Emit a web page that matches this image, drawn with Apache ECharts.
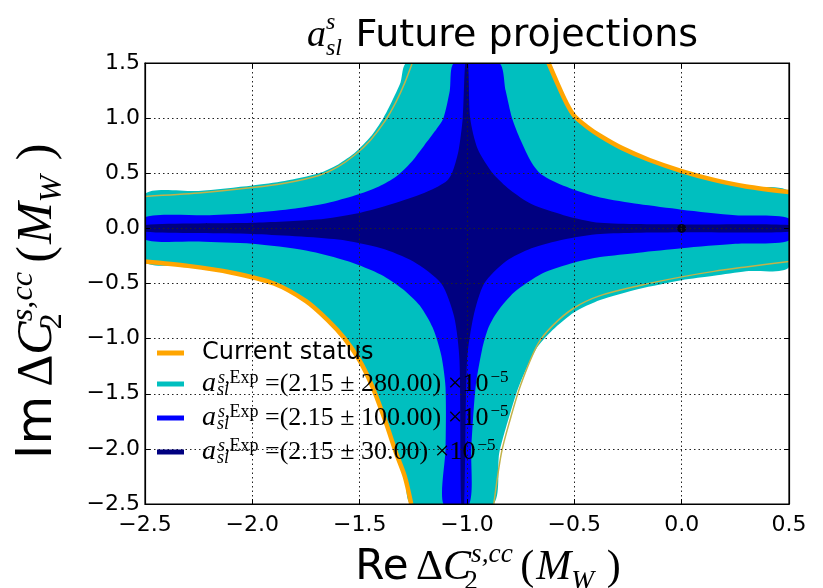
<!DOCTYPE html>
<html><head><meta charset="utf-8">
<script src="https://cdn.jsdelivr.net/npm/echarts@6/dist/echarts.min.js"></script>
<style>html,body{margin:0;padding:0;background:#fff}#c{width:823px;height:588px}</style>
</head><body><div id="c"></div>
<script>
// ---- axis ticks ----
const xTicks = [-2.5, -2.0, -1.5, -1.0, -0.5, 0.0, 0.5];
const yTicks = [-2.5, -2.0, -1.5, -1.0, -0.5, 0.0, 0.5, 1.0, 1.5];

// ---- legend ----
const legendNames = ['Current status', 'err280', 'err100', 'err30'];
const legendErrors = { err280: '280.00', err100: '100.00', err30: '30.00' };
const centralValue = '2.15';

// ---- region boundaries: [Re, Im] ----
// cyan (±280)
const cyanUL = [[-2.5,0.31],[-2.25,0.34],[-2.0,0.39],[-1.85,0.43],[-1.69,0.5],[-1.6,0.58],[-1.52,0.69],[-1.45,0.83],[-1.39,1.0],[-1.35,1.15],[-1.31,1.32],[-1.28,1.5]];
const cyanUR = [[-0.62,1.5],[-0.58,1.32],[-0.54,1.15],[-0.5,1.02],[-0.44,0.92],[-0.38,0.84],[-0.28,0.73],[-0.15,0.62],[0.0,0.52],[0.15,0.44],[0.3,0.38],[0.5,0.33]];
const cyanLR = [[0.5,-0.35],[0.3,-0.39],[0.15,-0.43],[0.0,-0.47],[-0.2,-0.55],[-0.38,-0.65],[-0.5,-0.76],[-0.6,-0.92],[-0.68,-1.1],[-0.76,-1.44],[-0.81,-1.75],[-0.85,-2.04],[-0.88,-2.5]];
const cyanLL = [[-1.26,-2.5],[-1.29,-2.25],[-1.33,-2.04],[-1.38,-1.75],[-1.44,-1.44],[-1.5,-1.2],[-1.57,-1.0],[-1.65,-0.83],[-1.75,-0.66],[-1.9,-0.5],[-2.1,-0.4],[-2.3,-0.34],[-2.5,-0.3]];
// blue (±100)
const blueUL = [[-2.5,0.1],[-2.2,0.12],[-2.0,0.14],[-1.8,0.18],[-1.65,0.23],[-1.52,0.3],[-1.41,0.38],[-1.33,0.47],[-1.26,0.6],[-1.2,0.75],[-1.15,0.88],[-1.11,1.0],[-1.08,1.25],[-1.06,1.5]];
const blueUR = [[-0.85,1.5],[-0.82,1.25],[-0.79,1.0],[-0.75,0.8],[-0.7,0.6],[-0.66,0.5],[-0.6,0.43],[-0.5,0.35],[-0.38,0.28],[-0.2,0.22],[0.0,0.17],[0.25,0.12],[0.5,0.09]];
const blueLR = [[0.5,-0.11],[0.25,-0.14],[0.0,-0.18],[-0.2,-0.22],[-0.38,-0.26],[-0.5,-0.31],[-0.65,-0.41],[-0.78,-0.58],[-0.86,-0.76],[-0.9,-0.9],[-0.93,-1.1],[-0.96,-1.44],[-0.98,-2.0],[-0.99,-2.5]];
const blueLL = [[-1.11,-2.5],[-1.1,-2.0],[-1.1,-1.44],[-1.12,-1.15],[-1.16,-0.9],[-1.22,-0.7],[-1.3,-0.55],[-1.4,-0.42],[-1.55,-0.3],[-1.75,-0.2],[-2.0,-0.14],[-2.25,-0.12],[-2.5,-0.1]];
// navy (±30)
const navyUL = [[-2.5,0.03],[-2.0,0.05],[-1.7,0.08],[-1.5,0.14],[-1.35,0.22],[-1.2,0.32],[-1.1,0.42],[-1.07,0.5],[-1.04,0.7],[-1.02,1.0],[-1.008,1.5]];
const navyUR = [[-0.995,1.5],[-0.985,1.0],[-0.95,0.72],[-0.88,0.5],[-0.8,0.35],[-0.7,0.22],[-0.55,0.12],[-0.38,0.05],[0.0,0.035],[0.5,0.03]];
const navyLR = [[0.5,-0.03],[0.0,-0.035],[-0.38,-0.05],[-0.55,-0.1],[-0.7,-0.18],[-0.82,-0.3],[-0.92,-0.5],[-0.97,-0.8],[-1.0,-1.2],[-1.013,-2.5]];
const navyLL = [[-1.027,-2.5],[-1.035,-1.2],[-1.06,-0.8],[-1.12,-0.5],[-1.25,-0.3],[-1.4,-0.18],[-1.6,-0.1],[-2.0,-0.05],[-2.5,-0.03]];
// current status contour (thick orange) and its thin companion lines
const orangeUR = [[-0.62,1.5],[-0.58,1.32],[-0.54,1.15],[-0.5,1.02],[-0.44,0.92],[-0.38,0.84],[-0.28,0.73],[-0.15,0.62],[0.0,0.52],[0.15,0.44],[0.3,0.38],[0.5,0.33]];
const orangeLL = [[-1.26,-2.5],[-1.29,-2.25],[-1.33,-2.04],[-1.38,-1.75],[-1.44,-1.44],[-1.5,-1.2],[-1.57,-1.0],[-1.65,-0.83],[-1.75,-0.66],[-1.9,-0.5],[-2.1,-0.4],[-2.3,-0.34],[-2.5,-0.3]];
const thinUL = [[-2.5,0.29],[-2.25,0.32],[-2.0,0.37],[-1.85,0.41],[-1.69,0.48],[-1.6,0.56],[-1.52,0.67],[-1.45,0.8],[-1.38,0.98],[-1.33,1.15],[-1.29,1.32],[-1.255,1.5]];
const thinLR = [[0.5,-0.3],[0.3,-0.35],[0.15,-0.39],[0.0,-0.44],[-0.2,-0.52],[-0.38,-0.61],[-0.5,-0.72],[-0.6,-0.88],[-0.67,-1.05],[-0.75,-1.42],[-0.8,-1.74],[-0.84,-2.04],[-0.875,-2.5]];
// SM point
const smPoint = [[0.0, 0.0]];

const COL = { orange:'#FFA500', cyan:'#00BFBF', blue:'#0000FF', navy:'#000080', thin:'#C2B24A' };

function polygon(name, parts, color, z) {
  const pts = [].concat(...parts);
  return {
    type:'custom', name, coordinateSystem:'cartesian2d', z, silent:true, clip:true,
    itemStyle:{ color }, data:[pts[0]],
    renderItem: (params, api) => ({
      type:'polygon',
      shape:{ points: pts.map(p => api.coord(p)), smooth: 0.25 },
      style:{ fill: color }
    })
  };
}
function curve(name, pts, color, width, z) {
  return { type:'line', name, data: pts, z, smooth:0.3, symbol:'none', silent:true, clip:true,
    lineStyle:{ color, width }, itemStyle:{ color } };
}

const serif = 'Liberation Serif';
const sans = 'DejaVu Sans';
const fmt = v => (v < 0 ? '\u2212' : '') + Math.abs(v).toFixed(1);

function nameRich(fs) {
  return {
    t:{ fontFamily:sans, fontSize:fs, color:'#000', lineHeight:fs+12 },
    d:{ fontFamily:serif, fontSize:fs, color:'#000', lineHeight:fs+12, padding:[0,0,0,fs*0.18] },
    i:{ fontFamily:serif, fontStyle:'italic', fontSize:fs, color:'#000', lineHeight:fs+12 },
    m:{ fontFamily:serif, fontSize:fs, color:'#000', lineHeight:fs+12, padding:[0,2,0,fs*0.18] },
    sb:{ fontFamily:serif, fontSize:fs*0.65, width:0, verticalAlign:'bottom', lineHeight:fs*0.62, color:'#000' },
    sp:{ fontFamily:serif, fontStyle:'italic', fontSize:fs*0.65, verticalAlign:'top', lineHeight:fs*0.5, color:'#000' },
    sw:{ fontFamily:serif, fontStyle:'italic', fontSize:fs*0.65, verticalAlign:'bottom', lineHeight:fs*0.62, color:'#000', padding:[0,fs*0.12,0,0] }
  };
}

const chart = echarts.init(document.getElementById('c'));
chart.setOption({
  backgroundColor:'#fff',
  animation:false,
  title:{
    left:302, top:6,
    text:'{ai|a}{sb|sl}{sp|s}{t| Future projections}',
    textStyle:{ fontWeight:'normal', rich:{
      ai:{ fontFamily:serif, fontStyle:'italic', fontSize:38, lineHeight:50, color:'#000' },
      sb:{ fontFamily:serif, fontStyle:'italic', fontSize:24, width:0, verticalAlign:'bottom', lineHeight:22, color:'#000' },
      sp:{ fontFamily:serif, fontStyle:'italic', fontSize:24, verticalAlign:'top', lineHeight:20, color:'#000' },
      t:{ fontFamily:sans, fontSize:38, lineHeight:50, color:'#000', padding:[0,0,0,8] }
    }}
  },
  grid:{ left:145, right:34, top:63, bottom:84, outerBoundsMode:'none', containLabel:false,
         show:true, borderColor:'#000', borderWidth:1.2, z:10 },
  legend:{
    data: legendNames.map(n => ({ name:n, icon:'rect' })),
    orient:'vertical', left:152, top:336, itemGap:4, itemWidth:27, itemHeight:5, z:20,
    selectedMode:false,
    formatter: name => name === 'Current status'
      ? '{t|Current status}'
      : '{ai|a}{sb|sl}{spi|s,}{sp|Exp}{m| =(' + centralValue + ' \u00B1 ' + legendErrors[name] + ') \u00D710}{ex|\u22125}',
    textStyle:{ rich:{
      t:{ fontFamily:sans, fontSize:24, lineHeight:30, color:'#000', padding:[0,0,0,13] },
      ai:{ fontFamily:serif, fontStyle:'italic', fontSize:28, lineHeight:30, color:'#000', padding:[0,0,0,13] },
      sb:{ fontFamily:serif, fontStyle:'italic', fontSize:18, width:0, verticalAlign:'bottom', lineHeight:15, color:'#000', padding:[0,0,0,1] },
      spi:{ fontFamily:serif, fontStyle:'italic', fontSize:18, verticalAlign:'top', lineHeight:6, color:'#000', padding:[0,0,0,1] },
      sp:{ fontFamily:serif, fontSize:18, verticalAlign:'top', lineHeight:6, color:'#000' },
      m:{ fontFamily:serif, fontSize:26, lineHeight:30, color:'#000' },
      ex:{ fontFamily:serif, fontSize:17, verticalAlign:'top', lineHeight:10, color:'#000', padding:[0,0,0,2] }
    }}
  },
  xAxis:[{
    type:'value', min:-2.5, max:0.5, interval:0.5, z:10,
    axisLine:{ show:true, onZero:false, lineStyle:{ color:'#000', width:1.2 } },
    axisTick:{ show:true, inside:true, length:5, lineStyle:{ color:'#000' } },
    axisLabel:{ fontFamily:sans, fontSize:22, color:'#000', margin:10, formatter: fmt, showMinLabel:true, showMaxLabel:true },
    splitLine:{ show:true, lineStyle:{ color:'#222', width:1, type:[1.5,3] } },
    name:'{t|Re}{d|\u0394}{i|C}{sb|2}{sp|s,cc}{m|(}{i|M}{sw|W}{m|)}',
    nameLocation:'middle', nameGap:35,
    nameTextStyle:{ padding:[0,0,0,44], rich: nameRich(42) }
  },{
    type:'value', position:'top', min:-2.5, max:0.5, interval:0.5, z:10,
    axisLine:{ show:true, onZero:false, lineStyle:{ color:'#000', width:1.2 } },
    axisTick:{ show:true, inside:true, length:5, lineStyle:{ color:'#000' } },
    axisLabel:{ show:false }, splitLine:{ show:false }
  }],
  yAxis:[{
    type:'value', min:-2.5, max:1.5, interval:0.5, z:10,
    axisLine:{ show:true, onZero:false, lineStyle:{ color:'#000', width:1.2 } },
    axisTick:{ show:true, inside:true, length:5, lineStyle:{ color:'#000' } },
    axisLabel:{ fontFamily:sans, fontSize:22, color:'#000', margin:5, formatter: fmt, showMinLabel:true, showMaxLabel:true },
    splitLine:{ show:true, lineStyle:{ color:'#222', width:1, type:[1.5,3] } },
    name:'{t|Im}{d|\u0394}{i|C}{sb|2}{sp|s,cc}{m|(}{i|M}{sw|W}{m|)}',
    nameLocation:'middle', nameGap:76, nameRotate:90,
    nameTextStyle:{ padding:[0,34,0,0], rich: nameRich(50) }
  },{
    type:'value', position:'right', min:-2.5, max:1.5, interval:0.5, z:10,
    axisLine:{ show:true, onZero:false, lineStyle:{ color:'#000', width:1.2 } },
    axisTick:{ show:true, inside:true, length:5, lineStyle:{ color:'#000' } },
    axisLabel:{ show:false }, splitLine:{ show:false }
  }],
  series:[
    polygon('err280', [cyanUL, cyanUR, cyanLR, cyanLL], COL.cyan, 2),
    polygon('err100', [blueUL, blueUR, blueLR, blueLL], COL.blue, 3),
    polygon('err30', [navyUL, navyUR, navyLR, navyLL], COL.navy, 4),
    curve('Current status', orangeUR, COL.orange, 4.5, 5),
    curve('Current status', orangeLL, COL.orange, 4.5, 5),
    curve('thinUL', thinUL, COL.thin, 1.5, 5),
    curve('thinLR', thinLR, COL.thin, 1.5, 5),
    { type:'scatter', name:'SM', data: smPoint, symbolSize:9, z:6, silent:true, itemStyle:{ color:'#000' } }
  ]
});
</script>
</body></html>
